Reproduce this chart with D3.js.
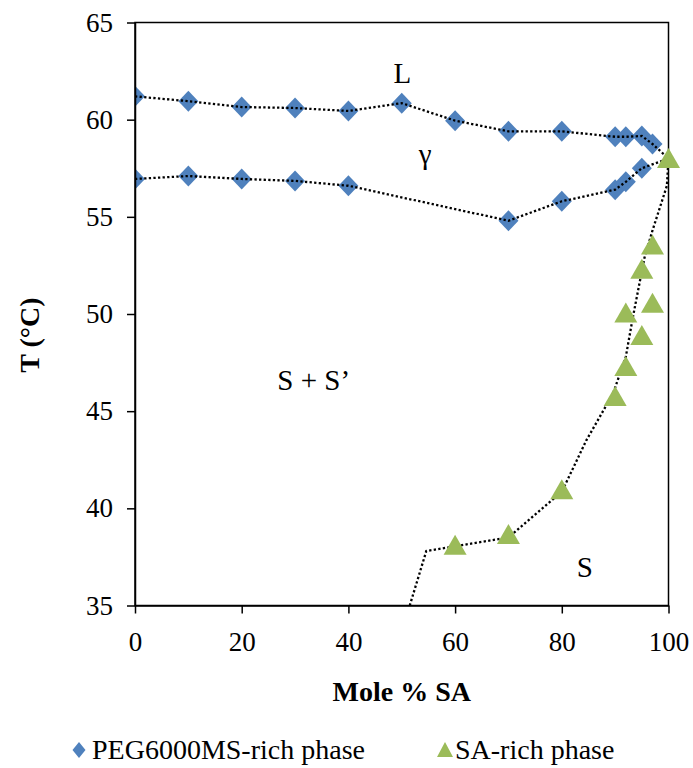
<!DOCTYPE html>
<html>
<head>
<meta charset="utf-8">
<script src="https://cdn.jsdelivr.net/npm/d3@7"></script>
<style>
  body { margin: 0; background: #fff; }
  text { font-family: "Liberation Serif", "Times New Roman", serif; fill: #000; }
</style>
</head>
<body>
<svg id="chart" width="693" height="768"></svg>
<script>
// PEG6000MS-rich phase, upper boundary (L)
var xUpper = [0, 10, 20, 30, 40, 50, 60, 70, 80, 90, 92, 95, 97]
var tUpper = [61.2, 60.95, 60.65, 60.6, 60.45, 60.85, 59.95, 59.4, 59.4, 59.12, 59.12, 59.16, 58.75]

// PEG6000MS-rich phase, lower boundary
var xLower = [0, 10, 20, 30, 40, 70, 80, 90, 92, 95]
var tLower = [56.95, 57.1, 56.95, 56.85, 56.6, 54.8, 55.8, 56.4, 56.8, 57.5]

// SA-rich phase
var xSA = [60, 70, 80, 90, 92, 92, 95, 95, 97, 97, 100]
var tSA = [38.1, 38.65, 40.95, 45.75, 47.3, 50.05, 48.9, 52.3, 50.55, 53.55, 58.0]

// dotted boundary drawn through the SA-rich points
var xSALine = [51.5, 54.6, 60, 70, 80, 84.6, 89.6, 92, 93.3, 95.5, 97, 99.7, 100]
var tSALine = [35, 37.8, 38.05, 38.5, 40.85, 43.5, 45.9, 47.8, 49.8, 52.9, 54.3, 56.6, 58.0]

var xTicks = [0, 20, 40, 60, 80, 100]
var yTicks = [35, 40, 45, 50, 55, 60, 65]

var regionLabels = [
    { text: "L", x: 50.1, t: 61.9 },
    { text: "γ", x: 54.4, t: 57.7 },
    { text: "S + S\u2019", x: 33.5, t: 46.1 },
    { text: "S", x: 84.3, t: 36.45 }
]

var dimensions = {
    width: 693,
    height: 768,
    margin: { top: 22.5, bottom: 162.5, left: 135, right: 24.5 }
}

var blue = "#4F81BD"
var green = "#9BBB59"

var svg = d3.select("#chart")

var xScale = d3.scaleLinear()
               .domain([0, 100])
               .range([dimensions.margin.left, dimensions.width - dimensions.margin.right])

var yScale = d3.scaleLinear()
               .domain([35, 65])
               .range([dimensions.height - dimensions.margin.bottom, dimensions.margin.top])

var plotW = xScale(100) - xScale(0)
var plotH = yScale(35) - yScale(65)

svg.append("defs").append("clipPath")
   .attr("id", "plotClip")
   .append("rect")
   .attr("x", xScale(0))
   .attr("y", yScale(65))
   .attr("width", plotW)
   .attr("height", plotH)

// plot area border
svg.append("rect")
   .attr("x", xScale(0))
   .attr("y", yScale(65))
   .attr("width", plotW)
   .attr("height", plotH)
   .attr("fill", "none")
   .attr("stroke", "#000")
   .attr("stroke-width", 1.5)

var diamond = "M0,-10.5L10,0L0,10.5L-10,0Z"
var triangle = "M0,-10.5L11.5,9.5L-11.5,9.5Z"

var upper = xUpper.map((x, i) => ({ x: x, t: tUpper[i] }))
var lower = xLower.map((x, i) => ({ x: x, t: tLower[i] }))
var sa = xSA.map((x, i) => ({ x: x, t: tSA[i] }))
var saLine = xSALine.map((x, i) => ({ x: x, t: tSALine[i] }))
var endPoint = sa[sa.length - 1]

var marks = svg.append("g").attr("clip-path", "url(#plotClip)")

marks.selectAll(".diamond")
     .data(upper.concat(lower))
     .enter()
     .append("path")
     .attr("class", "diamond")
     .attr("d", diamond)
     .attr("transform", d => `translate(${xScale(d.x)},${yScale(d.t)})`)
     .attr("fill", blue)

svg.selectAll(".triangle")
   .data(sa)
   .enter()
   .append("path")
   .attr("class", "triangle")
   .attr("d", triangle)
   .attr("transform", d => `translate(${xScale(d.x)},${yScale(d.t)})`)
   .attr("fill", green)

var lineGen = d3.line()
                .x(d => xScale(d.x))
                .y(d => yScale(d.t))

var lines = [upper.concat([endPoint]), lower.concat([endPoint]), saLine]

marks.selectAll(".bound")
     .data(lines)
     .enter()
     .append("path")
     .attr("class", "bound")
     .attr("d", d => lineGen(d))
     .attr("fill", "none")
     .attr("stroke", "#000")
     .attr("stroke-width", 2.3)
     .attr("stroke-dasharray", "2.3 2.3")

// axes
var xAxisGen = d3.axisBottom(xScale).tickValues(xTicks).tickSize(8).tickPadding(18).tickSizeOuter(0)
var xAxis = svg.append("g")
               .attr("transform", `translate(0,${yScale(35)})`)
               .call(xAxisGen)
xAxis.select(".domain").attr("stroke-width", 1.5)
xAxis.selectAll(".tick line").attr("stroke-width", 1.5)
xAxis.selectAll("text")
     .style("font-family", "Liberation Serif")
     .style("font-size", "27px")

var yAxisGen = d3.axisLeft(yScale).tickValues(yTicks).tickSize(8).tickPadding(14).tickSizeOuter(0)
var yAxis = svg.append("g")
               .attr("transform", `translate(${xScale(0)},0)`)
               .call(yAxisGen)
yAxis.select(".domain").attr("stroke-width", 1.5)
yAxis.selectAll(".tick line").attr("stroke-width", 1.5)
yAxis.selectAll("text")
     .style("font-family", "Liberation Serif")
     .style("font-size", "27px")

svg.append("text")
   .attr("x", (xScale(0) + xScale(100)) / 2)
   .attr("y", 701)
   .attr("text-anchor", "middle")
   .style("font-size", "28px")
   .style("font-weight", "bold")
   .text("Mole % SA")

svg.append("text")
   .attr("transform", "rotate(-90)")
   .attr("x", -335)
   .attr("y", 39)
   .attr("text-anchor", "middle")
   .style("font-size", "28px")
   .style("font-weight", "bold")
   .text("T (°C)")

// phase region labels
svg.selectAll(".region")
   .data(regionLabels)
   .enter()
   .append("text")
   .attr("class", "region")
   .attr("x", d => xScale(d.x))
   .attr("y", d => yScale(d.t))
   .attr("text-anchor", "middle")
   .style("font-size", "29px")
   .text(d => d.text)

// legend
var legend = svg.append("g").attr("transform", "translate(0,750)")
legend.append("path")
      .attr("d", "M0,-8L6.5,0L0,8L-6.5,0Z")
      .attr("transform", "translate(79,0)")
      .attr("fill", blue)
legend.append("text")
      .attr("x", 92)
      .attr("y", 8.5)
      .style("font-size", "28px")
      .text("PEG6000MS-rich phase")
legend.append("path")
      .attr("d", "M0,-8L8,7L-8,7Z")
      .attr("transform", "translate(445,0)")
      .attr("fill", green)
legend.append("text")
      .attr("x", 455)
      .attr("y", 8.5)
      .style("font-size", "28px")
      .text("SA-rich phase")
</script>
</body>
</html>
